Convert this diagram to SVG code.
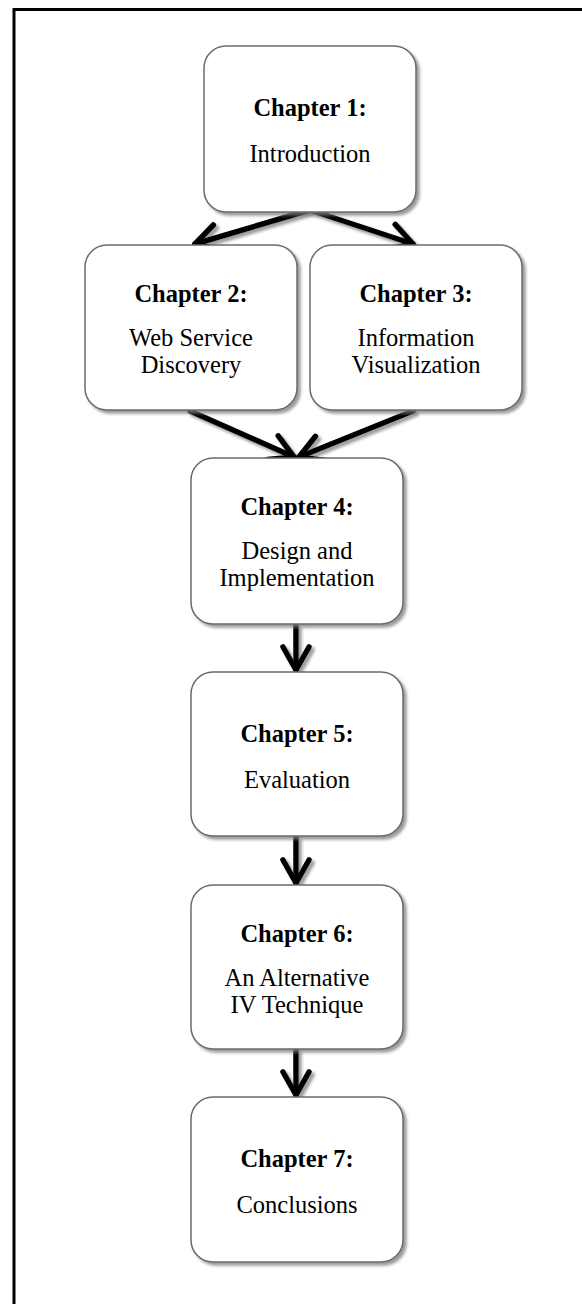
<svg xmlns="http://www.w3.org/2000/svg" width="582" height="1304" viewBox="0 0 582 1304">
  <style>
    .box { fill: #ffffff; stroke: #6b6b6b; stroke-width: 1.5; }
    .title { font-family: "Liberation Serif", "Times New Roman", serif; font-size: 24.5px; font-weight: bold; text-anchor: middle; fill: #000; }
    .body { font-family: "Liberation Serif", "Times New Roman", serif; font-size: 24.5px; text-anchor: middle; fill: #000; }
    .arrow { fill: none; stroke: #000; stroke-width: 5.5; stroke-linecap: round; stroke-linejoin: round; }
    .frame { fill: none; stroke: #000; stroke-width: 3; }
  </style>
  <defs>
    <filter id="shadow" x="-10%" y="-10%" width="125%" height="125%">
      <feDropShadow dx="3" dy="3" stdDeviation="1.5" flood-color="#7a7a7a" flood-opacity="0.75"/>
    </filter>
    <marker id="head" markerUnits="userSpaceOnUse" viewBox="-30 -18 34 36" markerWidth="34" markerHeight="36" refX="0" refY="0" orient="auto">
      <path d="M-23,-13 L0,0 L-23,13" fill="none" stroke="#000" stroke-width="5.5" stroke-linecap="round" stroke-linejoin="round"/>
    </marker>
  </defs>

  <rect width="582" height="1304" fill="#ffffff"/>

  <!-- page frame (top and left edges) -->
  <path class="frame" d="M14,1304 L14,9.5 L582,9.5"/>

  <!-- connectors -->
  <g id="connectors" filter="url(#shadow)">
    <line class="arrow" x1="310" y1="210" x2="195" y2="244" marker-end="url(#head)"/>
    <line class="arrow" x1="310" y1="210" x2="413" y2="244" marker-end="url(#head)"/>
    <line class="arrow" x1="190" y1="411" x2="294" y2="457" marker-end="url(#head)"/>
    <line class="arrow" x1="413" y1="411" x2="299" y2="457" marker-end="url(#head)"/>
    <line class="arrow" x1="296" y1="626" x2="296" y2="670" marker-end="url(#head)"/>
    <line class="arrow" x1="296" y1="838" x2="296" y2="883" marker-end="url(#head)"/>
    <line class="arrow" x1="296" y1="1051" x2="296" y2="1095" marker-end="url(#head)"/>
  </g>

  <!-- nodes -->
  <g id="ch1">
    <rect class="box" x="204" y="46" width="212" height="166" rx="22" filter="url(#shadow)"/>
    <text class="title" x="310" y="116">Chapter 1:</text>
    <text class="body" x="310" y="162">Introduction</text>
  </g>
  <g id="ch2">
    <rect class="box" x="85" y="245" width="212" height="165" rx="22" filter="url(#shadow)"/>
    <text class="title" x="191" y="302">Chapter 2:</text>
    <text class="body" x="191" y="346">Web Service</text>
    <text class="body" x="191" y="373">Discovery</text>
  </g>
  <g id="ch3">
    <rect class="box" x="310" y="245" width="212" height="165" rx="22" filter="url(#shadow)"/>
    <text class="title" x="416" y="302">Chapter 3:</text>
    <text class="body" x="416" y="346">Information</text>
    <text class="body" x="416" y="373">Visualization</text>
  </g>
  <g id="ch4">
    <rect class="box" x="191" y="458" width="212" height="166" rx="22" filter="url(#shadow)"/>
    <text class="title" x="297" y="515">Chapter 4:</text>
    <text class="body" x="297" y="559">Design and</text>
    <text class="body" x="297" y="586">Implementation</text>
  </g>
  <g id="ch5">
    <rect class="box" x="191" y="672" width="212" height="164" rx="22" filter="url(#shadow)"/>
    <text class="title" x="297" y="742">Chapter 5:</text>
    <text class="body" x="297" y="788">Evaluation</text>
  </g>
  <g id="ch6">
    <rect class="box" x="191" y="885" width="212" height="164" rx="22" filter="url(#shadow)"/>
    <text class="title" x="297" y="942">Chapter 6:</text>
    <text class="body" x="297" y="986">An Alternative</text>
    <text class="body" x="297" y="1013">IV Technique</text>
  </g>
  <g id="ch7">
    <rect class="box" x="191" y="1097" width="212" height="165" rx="22" filter="url(#shadow)"/>
    <text class="title" x="297" y="1167">Chapter 7:</text>
    <text class="body" x="297" y="1213">Conclusions</text>
  </g>
</svg>
